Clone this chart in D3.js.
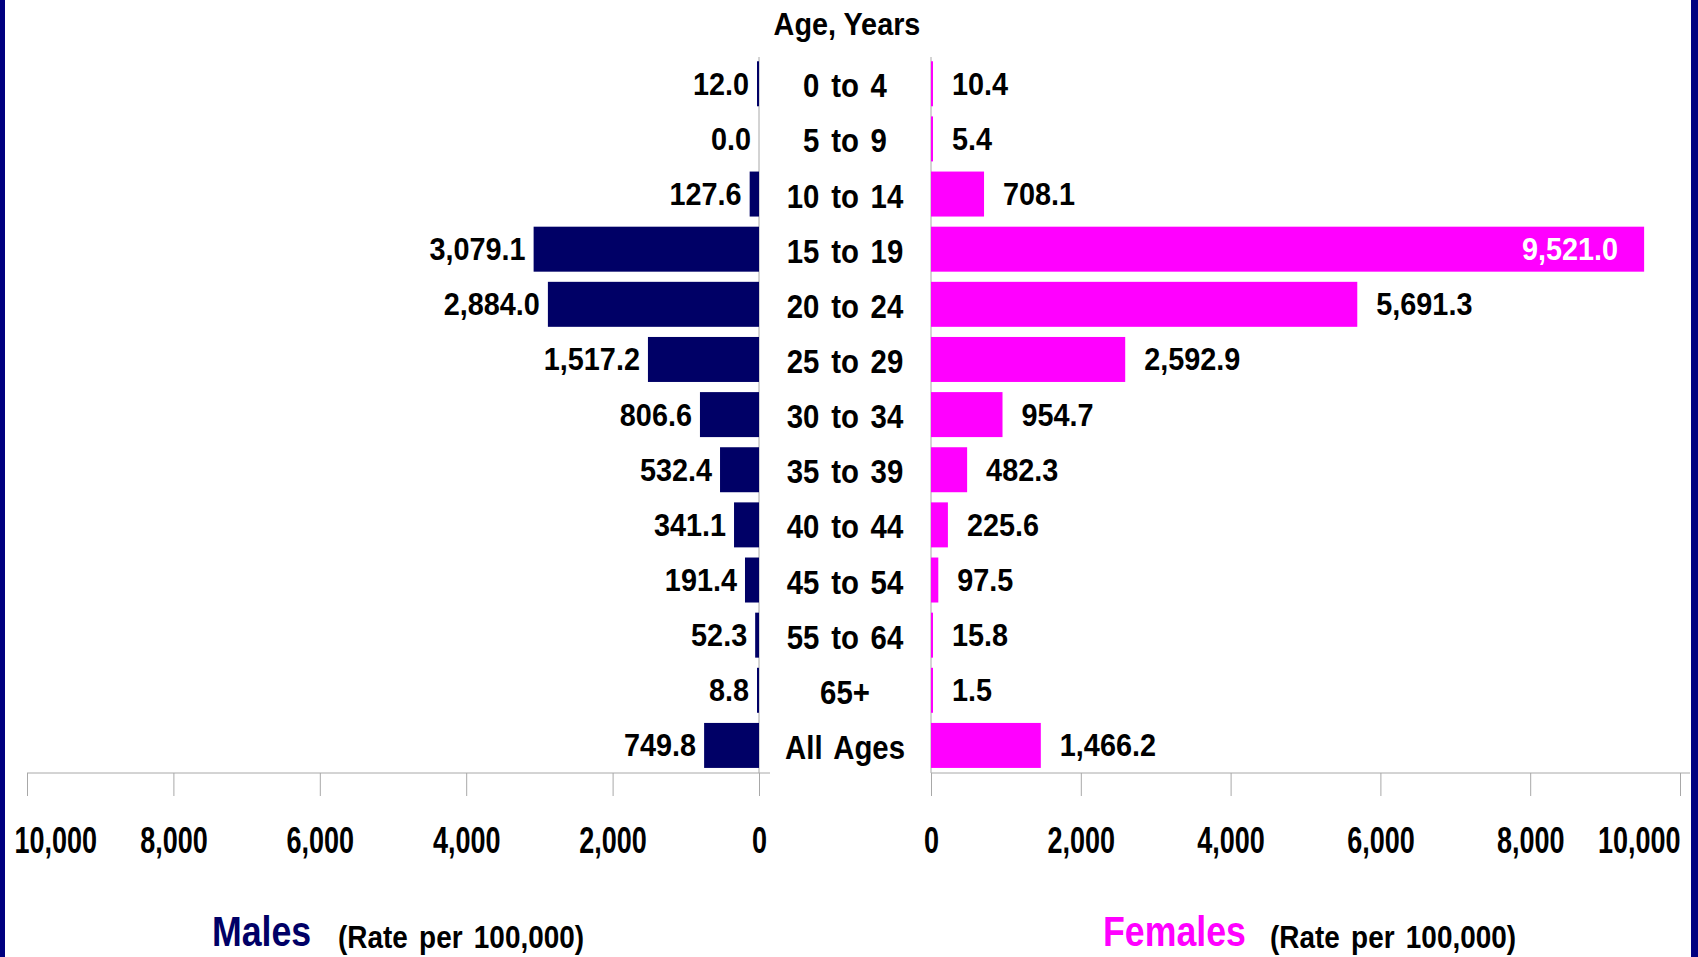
<!DOCTYPE html>
<html>
<head>
<meta charset="utf-8">
<script src="https://cdn.jsdelivr.net/npm/d3@7"></script>
<style>
body { margin: 0; background: #fff; }
svg { display: block; font-family: "Liberation Sans", Arial, sans-serif; font-weight: bold; }
</style>
</head>
<body>
<svg width="1698" height="957"></svg>
<script>

var ageGroups = ["0 to 4", "5 to 9", "10 to 14", "15 to 19", "20 to 24", "25 to 29", "30 to 34",
  "35 to 39", "40 to 44", "45 to 54", "55 to 64", "65+", "All Ages"];
var maleRates = [12.0, 0.0, 127.6, 3079.1, 2884.0, 1517.2, 806.6, 532.4, 341.1, 191.4, 52.3, 8.8, 749.8];
var femaleRates = [10.4, 5.4, 708.1, 9521.0, 5691.3, 2592.9, 954.7, 482.3, 225.6, 97.5, 15.8, 1.5, 1466.2];
var axisTicks = [0, 2000, 4000, 6000, 8000, 10000];

var W = 1698, H = 957;
var navy = "#000066";
var magenta = "#ff00ff";
var lineGray = "#a8a8a8";
var axisY = 773;

var fmtValue = d3.format(",.1f");
var fmtTick = d3.format(",");

// text in the original is squeezed sideways, so scale x only
function squeeze(x, y, sx) {
  return "translate(" + x + "," + y + ") scale(" + sx + ",1)";
}

var svg = d3.select("svg");

// frame edges
svg.append("rect").attr("x", 0).attr("y", 0).attr("width", 5).attr("height", H).attr("fill", "#000080");
svg.append("rect").attr("x", 1691).attr("y", 0).attr("width", 7).attr("height", H).attr("fill", "#000080");

var xM = d3.scaleLinear().domain([0, 10000]).range([759, 27]);
var xF = d3.scaleLinear().domain([0, 10000]).range([931, 1680]);
var y = d3.scaleBand().domain(ageGroups).range([56.2, axisY]).paddingInner(0.184).paddingOuter(0.092);

// title
svg.append("text")
    .attr("transform", squeeze(847, 35, 0.9))
    .attr("text-anchor", "middle")
    .attr("font-size", 32)
    .text("Age, Years");

// divider lines at the two zeros
[xM(0), xF(0)].forEach(function(x) {
  svg.append("line")
      .attr("x1", x).attr("x2", x)
      .attr("y1", 57).attr("y2", axisY)
      .attr("stroke", lineGray).attr("stroke-width", 1);
});

// bars
function barWidth(w, v) { return v > 0 ? Math.max(w, 2) : 0; }

svg.append("g").selectAll("rect")
    .data(maleRates)
    .join("rect")
    .attr("x", function(d) { return xM(0) - barWidth(xM(0) - xM(d), d); })
    .attr("y", function(d, i) { return y(ageGroups[i]); })
    .attr("width", function(d) { return barWidth(xM(0) - xM(d), d); })
    .attr("height", y.bandwidth())
    .attr("fill", navy);

svg.append("g").selectAll("rect")
    .data(femaleRates)
    .join("rect")
    .attr("x", xF(0))
    .attr("y", function(d, i) { return y(ageGroups[i]); })
    .attr("width", function(d) { return barWidth(xF(d) - xF(0), d); })
    .attr("height", y.bandwidth())
    .attr("fill", magenta);

// category labels in the middle column
svg.append("g").selectAll("text")
    .data(ageGroups)
    .join("text")
    .attr("transform", function(d) { return squeeze(845, y(d) + y.bandwidth() / 2 + 13.5, 0.89); })
    .attr("text-anchor", "middle")
    .attr("font-size", 33)
    .attr("word-spacing", 4)
    .text(function(d) { return d; });

// value labels
svg.append("g").selectAll("text")
    .data(maleRates)
    .join("text")
    .attr("transform", function(d, i) {
      var x = xM(0) - barWidth(xM(0) - xM(d), d) - 8;
      return squeeze(x, y(ageGroups[i]) + y.bandwidth() / 2 + 11, 0.93);
    })
    .attr("text-anchor", "end")
    .attr("font-size", 31)
    .text(function(d) { return fmtValue(d); });

svg.append("g").selectAll("text")
    .data(femaleRates)
    .join("text")
    .attr("transform", function(d, i) {
      var inside = d > 8000;
      var x = inside ? xF(d) - 26 : xF(0) + barWidth(xF(d) - xF(0), d) + 19;
      return squeeze(x, y(ageGroups[i]) + y.bandwidth() / 2 + 11, 0.93);
    })
    .attr("text-anchor", function(d) { return d > 8000 ? "end" : "start"; })
    .attr("fill", function(d) { return d > 8000 ? "#fff" : "#000"; })
    .attr("font-size", 31)
    .text(function(d) { return fmtValue(d); });

// axes
function drawAxis(scale, lineFrom, lineTo) {
  var g = svg.append("g")
      .attr("transform", "translate(0," + axisY + ")")
      .call(d3.axisBottom(scale).tickValues(axisTicks).tickSize(23).tickSizeOuter(0).tickFormat(fmtTick));
  g.select(".domain").remove();
  g.selectAll(".tick line").attr("stroke", lineGray);
  g.selectAll(".tick text")
      .attr("y", 0).attr("dy", 0)
      .attr("fill", "#000")
      .style("font-size", "36px")
      .style("font-family", "'Liberation Sans', Arial, sans-serif")
      .style("font-weight", "bold")
      .attr("transform", squeeze(0, 80, 0.75));
  g.append("line")
      .attr("x1", lineFrom).attr("x2", lineTo)
      .attr("y1", 0).attr("y2", 0)
      .attr("stroke", lineGray).attr("stroke-width", 1);
  return g;
}

var gM = drawAxis(xM, xM(10000), xM(0) + 11);
var gF = drawAxis(xF, xF(0), xF(10000) + 10);

// keep the outer 10,000 labels inside the frame
gM.selectAll(".tick text").filter(function(d) { return d === 10000; })
    .attr("text-anchor", "start")
    .attr("transform", squeeze(14 - xM(10000), 80, 0.75));
gF.selectAll(".tick text").filter(function(d) { return d === 10000; })
    .attr("text-anchor", "end");

// bottom legend titles
function legend(x, name, color) {
  svg.append("text")
      .attr("transform", squeeze(x, 946, 0.85))
      .attr("font-size", 42)
      .attr("fill", color)
      .text(name);
}
legend(212, "Males", navy);
legend(1103, "Females", magenta);

[338, 1270].forEach(function(x) {
  svg.append("text")
      .attr("transform", squeeze(x, 948, 0.9))
      .attr("font-size", 31)
      .attr("word-spacing", 4)
      .text("(Rate per 100,000)");
});

</script>
</body>
</html>
